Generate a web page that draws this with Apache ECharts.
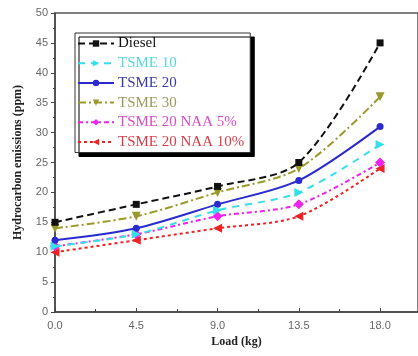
<!DOCTYPE html>
<html>
<head>
<meta charset="utf-8">
<script src="https://cdn.jsdelivr.net/npm/echarts@6/dist/echarts.min.js"></script>
<style>html,body{margin:0;padding:0;background:#fff}#c{width:418px;height:356px}</style>
</head>
<body>
<div id="c"></div>
<script>
var loads = [0, 4.5, 9, 13.5, 18];
var seriesNames = ['Diesel', 'TSME 10', 'TSME 20', 'TSME 30', 'TSME 20 NAA 5%', 'TSME 20 NAA 10%'];
var diesel = [15, 18, 21, 25, 45];
var tsme10 = [11, 13, 17, 20, 28];
var tsme20 = [12, 14, 18, 22, 31];
var tsme30 = [14, 16, 20, 24, 36];
var naa5 = [11, 13, 16, 18, 25];
var naa10 = [10, 12, 14, 16, 24];
var xTicks = [0, 4.5, 9, 13.5, 18];
var yTicks = [0, 5, 10, 15, 20, 25, 30, 35, 40, 45, 50];

var values = [diesel, tsme10, tsme20, tsme30, naa5, naa10];
var styles = [
  {color: '#111111', text: '#111111', dash: [7, 4], symbol: 'rect', size: 7, rot: 0},
  {color: '#33e0e8', text: '#55d8e0', dash: [7, 6], symbol: 'triangle', size: 9, rot: -90},
  {color: '#2a2ad0', text: '#3a3aa8', dash: 'solid', symbol: 'circle', size: 7, rot: 0},
  {color: '#9a9a2a', text: '#9a9a5a', dash: [8, 3, 2, 3], symbol: 'triangle', size: 9, rot: 180},
  {color: '#ee22ee', text: '#d84cc8', dash: [5, 3, 2, 3], symbol: 'diamond', size: 10, rot: 0},
  {color: '#ee2222', text: '#d83c48', dash: [3, 3], symbol: 'triangle', size: 9, rot: 90}
];

var series = seriesNames.map(function (n, i) {
  var s = styles[i];
  return {
    name: n, type: 'line', smooth: 0.3,
    data: loads.map(function (x, j) { return [x, values[i][j]]; }),
    symbol: s.symbol, symbolSize: s.size, symbolRotate: s.rot,
    lineStyle: {color: s.color, width: 2, type: s.dash},
    itemStyle: {color: s.color},
    z: 10 - i
  };
});

var chart = echarts.init(document.getElementById('c'), null, {renderer: 'canvas'});
chart.setOption({
  animation: false,
  backgroundColor: '#fff',
  grid: {left: 55, top: 13, right: -9, bottom: 44, show: true, borderColor: '#555', borderWidth: 1.5, backgroundColor: 'transparent'},
  legend: {
    orient: 'vertical', left: 75, top: 33,
    padding: [3, 6, 3, 2],
    itemWidth: 36, itemHeight: 8, itemGap: 4.7,
    backgroundColor: '#fff',
    borderColor: '#333', borderWidth: 1,
    shadowColor: '#000', shadowOffsetX: 4, shadowOffsetY: 4, shadowBlur: 0,
    textStyle: {fontFamily: 'Liberation Serif', fontSize: 15, lineHeight: 14, padding: [0, 0, 0, -1]},
    data: seriesNames.map(function (n, i) { return {name: n, textStyle: {color: styles[i].text}}; })
  },
  xAxis: {
    type: 'value', min: 0, max: 20.1, interval: 4.5,
    name: 'Load (kg)', nameLocation: 'middle', nameGap: 24,
    nameTextStyle: {fontFamily: 'Liberation Serif', fontWeight: 'bold', fontSize: 12, color: '#222'},
    axisLine: {show: true, onZero: false, lineStyle: {color: '#444', width: 1.5}},
    axisTick: {show: true, inside: true, length: 4, lineStyle: {color: '#444'}},
    minorTick: {show: true, splitNumber: 2, length: 3, lineStyle: {color: '#444'}},
    axisLabel: {showMaxLabel: false, color: '#666', fontFamily: 'Liberation Sans', fontSize: 11, margin: 8,
      formatter: function (v) { return xTicks.indexOf(v) >= 0 ? v.toFixed(1) : ''; }},
    splitLine: {show: false}
  },
  yAxis: {
    type: 'value', min: 0, max: 50, interval: 5,
    name: 'Hydrocarbon emissions (ppm)', nameLocation: 'middle', nameGap: 31,
    nameTextStyle: {fontFamily: 'Liberation Serif', fontWeight: 'bold', fontSize: 12, color: '#222'},
    axisLine: {show: true, onZero: false, lineStyle: {color: '#444', width: 1.5}},
    axisTick: {show: true, inside: false, length: 4, lineStyle: {color: '#444'}},
    minorTick: {show: true, splitNumber: 2, length: 2, lineStyle: {color: '#444'}},
    axisLabel: {color: '#666', fontFamily: 'Liberation Sans', fontSize: 11, margin: 7,
      formatter: function (v) { return yTicks.indexOf(v) >= 0 ? String(v) : ''; }},
    splitLine: {show: false}
  },
  series: series
});
</script>
</body>
</html>
